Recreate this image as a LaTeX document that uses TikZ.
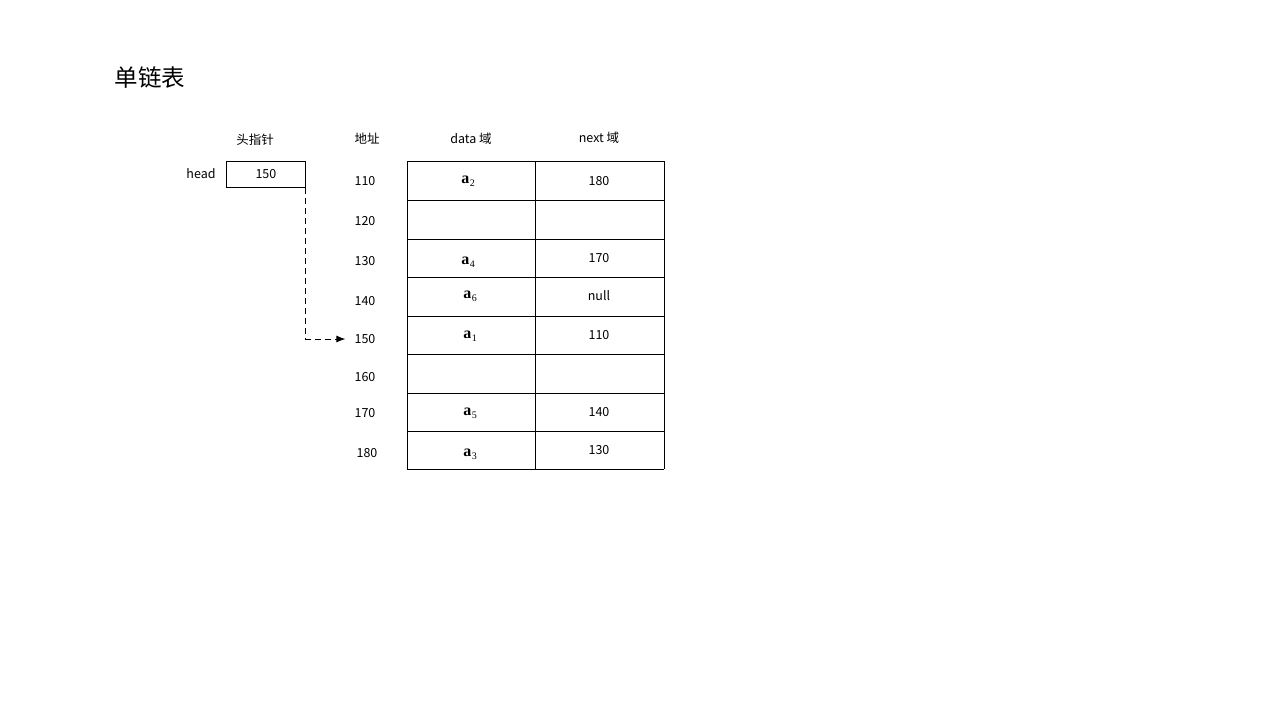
\documentclass[tikz,border=0pt]{standalone}
\usepackage{fontspec}
\setmainfont{Noto Sans CJK SC}
\newfontfamily\serifa{Liberation Serif}
\usetikzlibrary{arrows.meta}
\tikzset{
  txt/.style={inner sep=0pt, font=\fontsize{12.5}{14}\selectfont},
  atxt/.style={inner sep=0pt, font=\serifa\fontsize{16}{18}\selectfont},
  grid/.style={line width=0.9pt, black},
}
\newcommand{\av}[1]{{\bfseries a}\kern0.5pt\raisebox{-3pt}{\fontsize{10}{11}\selectfont #1}}
\begin{document}
\begin{tikzpicture}[x=1pt,y=-1pt]
\useasboundingbox (0,0) rectangle (1280,720);
% title
\node[inner sep=0pt, font=\fontsize{23.5}{27}\selectfont] (title) at (150,78) {单链表};
% headers
\node[txt] (htou) at (255,140) {头指针};
\node[txt] (haddr) at (367,139) {地址};
\node[txt] (hdata) at (471,139) {data 域};
\node[txt] (hnext) at (599,138) {next 域};
% head box
\node[txt] (headlbl) at (201,174) {head};
\node[draw, grid, minimum width=79pt, minimum height=26pt, inner sep=0pt, anchor=north west, font=\fontsize{12.5}{14}\selectfont] (headbox) at (226,161) {150};
% table grid
\foreach \y in {161,200,239,277,316,354,393,431,469}{
  \draw[grid] (407,\y) -- (664,\y);
}
\draw[grid] (407,161) -- (407,469);
\draw[grid] (535,161) -- (535,469);
\draw[grid] (664,161) -- (664,469);
% addresses
\node[txt] (a110) at (365,181) {110};
\node[txt] (a120) at (365,221) {120};
\node[txt] (a130) at (365,261) {130};
\node[txt] (a140) at (365,301) {140};
\node[txt] (a150) at (365,339) {150};
\node[txt] (a160) at (365,377) {160};
\node[txt] (a170) at (365,413) {170};
\node[txt] (a180) at (367,453) {180};
% data
\node[atxt] (d110) at (468,181) {\av{2}};
\node[atxt] (d130) at (468,262) {\av{4}};
\node[atxt] (d140) at (470,296) {\av{6}};
\node[atxt] (d150) at (470,336) {\av{1}};
\node[atxt] (d170) at (470,413) {\av{5}};
\node[atxt] (d180) at (470,454) {\av{3}};
% next
\node[txt] (n110) at (599,181) {180};
\node[txt] (n130) at (599,258) {170};
\node[txt] (n140) at (599,296) {null};
\node[txt] (n150) at (599,335) {110};
\node[txt] (n170) at (599,412) {140};
\node[txt] (n180) at (599,450) {130};
% pointer
\draw[line width=0.9pt, dash pattern=on 6pt off 4pt, -{Latex[length=9pt,width=7pt]}, shorten >=9pt]
  (headbox.south east) |- (a150.west);
\end{tikzpicture}
\end{document}
